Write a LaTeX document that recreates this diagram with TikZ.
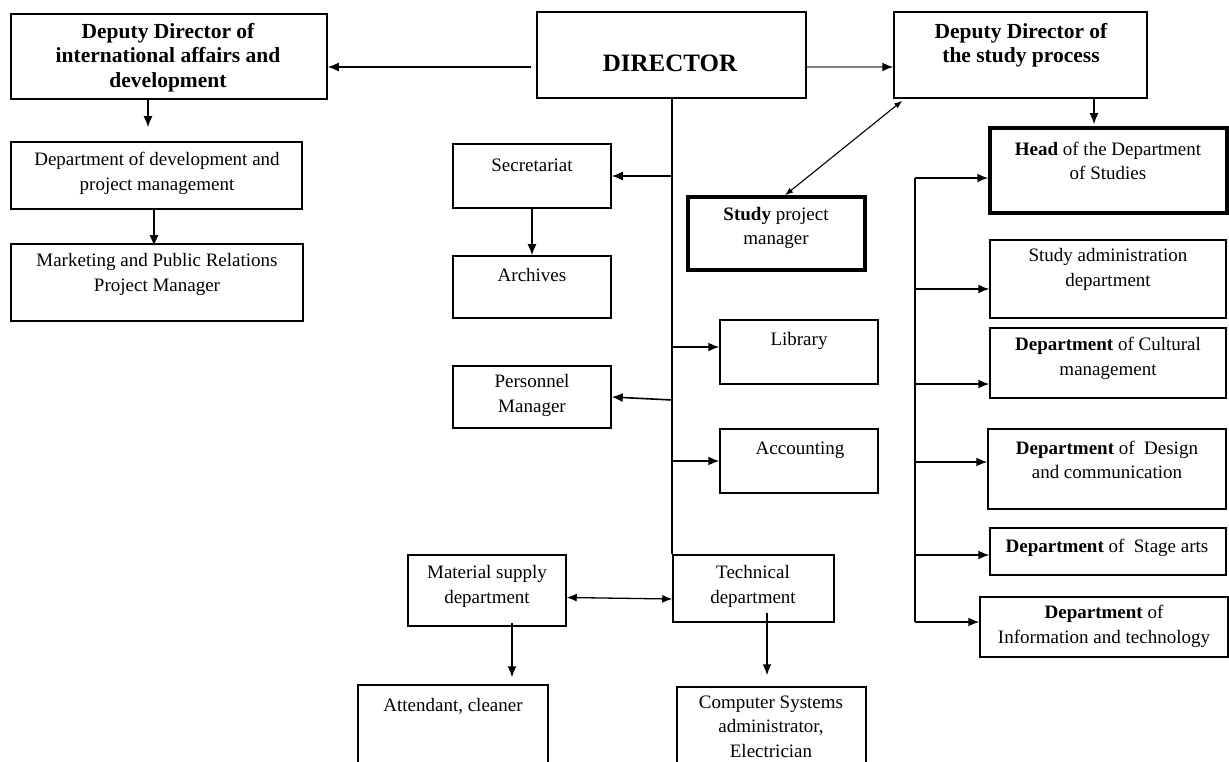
\documentclass[tikz,border=0pt]{standalone}
\usepackage{fontspec}
\setmainfont{Liberation Serif}
\usetikzlibrary{arrows.meta,calc}
\begin{document}
\begin{tikzpicture}[x=1pt,y=-1pt,
  box/.style={draw=black, line width=1.5pt, rectangle, inner sep=0pt},
  thickbox/.style={draw=black, line width=3.5pt, rectangle, inner sep=0pt},
  txt/.style={align=center, inner sep=0pt, font=\fontsize{19}{24.5}\selectfont},
  hdtxt/.style={align=center, inner sep=0pt, font=\fontsize{21.5}{24.5}\selectfont\bfseries},
  link/.style={line width=1.6pt},
  arr/.style={line width=1.6pt, -{Latex[length=11pt,width=9pt]}},
  twoway/.style={line width=1.3pt, {Latex[length=10pt,width=8pt]}-{Latex[length=10pt,width=8pt]}},
]
\newcommand\orgbox[6]{\node[#6, minimum width=#4pt, minimum height=#5pt] (#1) at (#2,#3) {};}

\useasboundingbox (0,0) rectangle (1229,762);
\fill[white] (0,0) rectangle (1229,762);
\clip (0,0) rectangle (1229,762);

% ---------- boxes ----------
\orgbox{dintl}{169}{56.5}{316}{85}{box}
\orgbox{dir}{671.5}{55}{269}{86}{box}
\orgbox{dsp}{1020.5}{55}{253}{86}{box}
\orgbox{dev}{156.5}{175.5}{291}{67}{box}
\orgbox{mkt}{157}{282.5}{292}{77}{box}
\orgbox{sec}{532}{176}{158}{64}{box}
\orgbox{arch}{532}{287}{158}{62}{box}
\orgbox{spm}{776.5}{233.5}{177}{73}{thickbox}
\orgbox{lib}{799}{352}{158}{64}{box}
\orgbox{pers}{532}{397}{158}{62}{box}
\orgbox{acc}{799}{461}{158}{64}{box}
\orgbox{tech}{753.5}{588.5}{161}{67}{box}
\orgbox{mat}{487}{590.5}{158}{71}{box}
\orgbox{att}{453}{742.5}{190}{115}{box}
\orgbox{comp}{771.5}{743.5}{189}{113}{box}
\orgbox{head}{1108.5}{170.5}{237}{85}{thickbox}
\orgbox{sa}{1108}{279}{236}{78}{box}
\orgbox{cult}{1108}{363}{236}{70}{box}
\orgbox{des}{1107}{469}{238}{80}{box}
\orgbox{stage}{1108}{551.5}{236}{47}{box}
\orgbox{info}{1104}{627}{248}{60}{box}

% ---------- texts ----------
\node[hdtxt] (dintl-t) at (168,57.5) {Deputy Director of\\international affairs and\\development};
\node[hdtxt, font=\fontsize{25}{28}\selectfont\bfseries] (dir-t) at (670,63) {DIRECTOR};
\node[hdtxt] (dsp-t) at (1021,45.5) {Deputy Director of\\the study process};
\node[txt] (dev-t) at (157,173.5) {Department of development and\\project management};
\node[txt] (mkt-t) at (157,274.5) {Marketing and Public Relations\\Project Manager};
\node[txt] (sec-t) at (532,165) {Secretariat};
\node[txt] (arch-t) at (532,275) {Archives};
\node[txt] (spm-t) at (776,228) {\textbf{Study} project\\manager};
\node[txt] (lib-t) at (799,341) {Library};
\node[txt] (pers-t) at (532,395.5) {Personnel\\Manager};
\node[txt] (acc-t) at (800,450) {Accounting};
\node[txt] (tech-t) at (753,586.5) {Technical\\department};
\node[txt] (mat-t) at (487,586.5) {Material supply\\department};
\node[txt] (att-t) at (453,706) {Attendant, cleaner};
\node[txt] (comp-t) at (771,726.5) {Computer Systems\\administrator,\\Electrician};
\node[txt] (head-t) at (1108,161) {\textbf{Head} of the Department\\of Studies};
\node[txt] (sa-t) at (1108,269.5) {Study administration\\department};
\node[txt] (cult-t) at (1108,358.5) {\textbf{Department} of Cultural\\management};
\node[txt] (des-t) at (1107,460) {\textbf{Department} of\ \ Design\\and communication};
\node[txt] (stage-t) at (1107,548) {\textbf{Department} of\ \ Stage arts};
\node[txt] (info-t) at (1104,626.5) {\textbf{Department} of\\Information and technology};

% ---------- connectors: top level ----------
\coordinate (dL) at ([yshift=-12pt]dir.west);
\coordinate (dR) at ([yshift=-12pt]dir.east);
\draw[arr, shorten <=5pt] (dL) -- (dL -| dintl.east);
\draw[arr, draw=gray, -{Latex[length=11pt,width=9pt,color=black]}] (dR) -- (dR -| dsp.west);

% left branch
\coordinate (intlDown) at ([xshift=-21pt]dintl.south);
\draw[arr, shorten >=14pt] (intlDown) -- (intlDown |- dev.north);
\coordinate (devDown) at ([xshift=-2.5pt]dev.south);
\draw[arr, shorten >=-3pt] (devDown) -- (devDown |- mkt.north);

% central trunk
\coordinate (tTop) at (dir.south -| tech.north west);
\draw[link] (tTop) -- (tech.north west);
\draw[arr] (tTop |- sec.east) -- (sec.east);
\draw[arr] (sec.south) -- (arch.north);
\coordinate (libIn) at ([yshift=5pt]lib.west);
\draw[arr] (tTop |- libIn) -- (libIn);
\coordinate (persOut) at ([yshift=-3pt]pers.east -| tTop);
\draw[arr] (tTop |- persOut) -- (pers.east);
\draw[arr] (tTop |- acc.west) -- (acc.west);

% technical services
\coordinate (m1) at ([yshift=-7pt]mat.east);
\coordinate (t1) at ([yshift=-10.5pt]tech.west);
\draw[twoway] (m1) -- (t1);
\coordinate (matDown) at ([xshift=25pt,yshift=4pt]mat.south);
\draw[arr, shorten >=7pt] (matDown) -- (matDown |- att.north);
\coordinate (techDown) at ([xshift=13.5pt,yshift=10pt]tech.south);
\draw[arr, shorten >=11pt] (techDown) -- (techDown |- comp.north);

% study process branch
\coordinate (spmUp) at ([xshift=8.5pt]spm.north);
\coordinate (dspLow) at ([xshift=9pt,yshift=-2pt]dsp.south west);
\draw[twoway, line width=1.1pt, {Latex[length=8pt,width=6pt]}-{Latex[length=8pt,width=6pt]}] (spmUp) -- (dspLow);
\coordinate (dspDown) at ([xshift=73.5pt]dsp.south);
\draw[arr, shorten >=2pt] (dspDown) -- (dspDown |- head.north);

% right trunk
\coordinate (rTop) at (915,178);
\coordinate (rBot) at (915,622);
\draw[link] (rTop) -- (rBot);
\draw[arr] (rTop) -- (rTop -| head.west);
\coordinate (saIn) at ([yshift=-10pt]sa.west);
\draw[arr] (rTop |- saIn) -- (saIn);
\coordinate (cultIn) at ([yshift=-21pt]cult.west);
\draw[arr] (rTop |- cultIn) -- (cultIn);
\coordinate (desIn) at ([yshift=7pt]des.west);
\draw[arr] (rTop |- desIn) -- (desIn);
\coordinate (stageIn) at ([yshift=-3.5pt]stage.west);
\draw[arr] (rTop |- stageIn) -- (stageIn);
\draw[arr] (rBot) -- (rBot -| info.west);
\end{tikzpicture}
\end{document}
